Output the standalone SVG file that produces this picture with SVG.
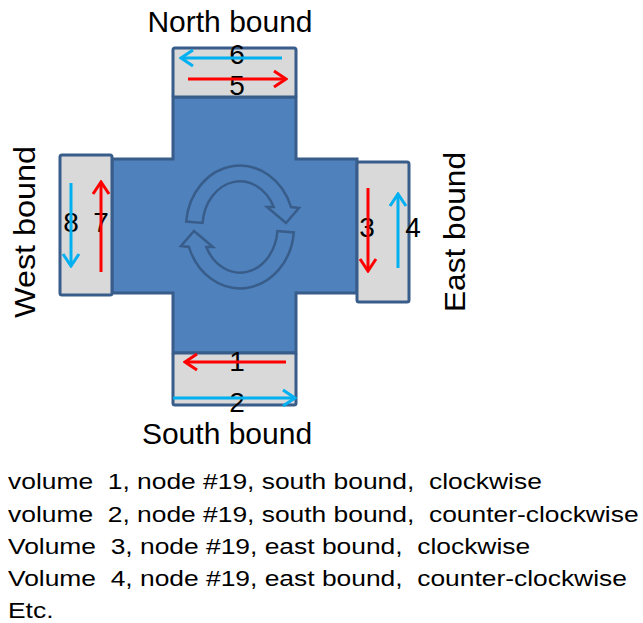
<svg xmlns="http://www.w3.org/2000/svg" width="643" height="623" viewBox="0 0 643 623">
<style>
  text { font-family: "Liberation Sans", Arial, sans-serif; fill: #000; }
  .lbl { font-size: 30px; }
  .num { font-size: 28px; text-anchor: middle; }
  .body { font-size: 22px; }
  .cross { fill: #4F81BD; stroke: #385D8A; stroke-width: 3; stroke-linejoin: miter; }
  .box { fill: #D9D9D9; stroke: #385D8A; stroke-width: 3; }
  .ring { fill: #4F81BD; stroke: #385D8A; stroke-width: 2.5; stroke-linejoin: miter; }
  .red { stroke: #FF0000; stroke-width: 3; fill: none; marker-end: url(#hr); }
  .blue { stroke: #00B0F0; stroke-width: 3; fill: none; marker-end: url(#hb); }
</style>
<defs>
  <marker id="hr" markerUnits="userSpaceOnUse" viewBox="0 0 16 20" refX="14" refY="10" markerWidth="16" markerHeight="20" orient="auto">
    <path d="M2,2 L14,10 L2,18" fill="none" stroke="#FF0000" stroke-width="3"/>
  </marker>
  <marker id="hb" markerUnits="userSpaceOnUse" viewBox="0 0 16 20" refX="14" refY="10" markerWidth="16" markerHeight="20" orient="auto">
    <path d="M2,2 L14,10 L2,18" fill="none" stroke="#00B0F0" stroke-width="3"/>
  </marker>
</defs>

<g id="intersection">
  <path class="cross" d="M173,97 H296 V159 H357 V293 H296 V353 H173 V293 H112 V159 H173 Z"/>
  <g id="rotation">
    <path class="ring" d="M186.2,221.6 A54,61.5 0 0 1 291,207 L299,208 L286,223 L267,207 L273.7,207 A37.5,45.5 0 0 0 202.6,223 Z"/>
    <path class="ring" transform="rotate(180 240 227)" d="M186.2,221.6 A54,61.5 0 0 1 291,207 L299,208 L286,223 L267,207 L273.7,207 A37.5,45.5 0 0 0 202.6,223 Z"/>
  </g>
</g>

<g id="north">
  <rect class="box" x="173" y="48" width="123" height="49" rx="2"/>
  <text class="num" x="237" y="64">6</text>
  <text class="num" x="237" y="95">5</text>
  <text class="lbl" x="230" y="32" text-anchor="middle">North bound</text>
</g>
<g id="south">
  <rect class="box" x="173" y="353" width="123" height="52" rx="2"/>
  <text class="num" x="237" y="371">1</text>
  <text class="num" x="237" y="412">2</text>
  <text class="lbl" x="227" y="444" text-anchor="middle">South bound</text>
</g>
<g id="west">
  <rect class="box" x="60" y="155" width="52" height="140" rx="2"/>
  <text class="num" x="71" y="232">8</text>
  <text class="num" x="101" y="232">7</text>
  <text class="lbl" transform="translate(35 232) rotate(-90)" text-anchor="middle" textLength="172" lengthAdjust="spacingAndGlyphs">West bound</text>
</g>
<g id="east">
  <rect class="box" x="357" y="162" width="52" height="140" rx="2"/>
  <text class="num" x="367" y="237">3</text>
  <text class="num" x="413" y="237">4</text>
  <text class="lbl" transform="translate(465 232) rotate(-90)" text-anchor="middle" textLength="160" lengthAdjust="spacingAndGlyphs">East bound</text>
</g>

<g id="connectors">
  <line class="blue" x1="282" y1="58" x2="181" y2="58"/>
  <line class="red" x1="188" y1="79" x2="286" y2="79"/>
  <line class="blue" x1="71" y1="183" x2="71" y2="266"/>
  <line class="red" x1="101" y1="272" x2="101" y2="182"/>
  <line class="red" x1="368" y1="188" x2="368" y2="271"/>
  <line class="blue" x1="398" y1="268" x2="398" y2="194"/>
  <line class="red" x1="286" y1="362" x2="185" y2="362"/>
  <line class="blue" x1="173" y1="398" x2="295" y2="398"/>
</g>

<g id="legend" class="body" transform="scale(1.2 1)">
  <text x="6.7" y="489" xml:space="preserve">volume  1, node #19, south bound,  clockwise</text>
  <text x="6.7" y="521.5" xml:space="preserve">volume  2, node #19, south bound,  counter-clockwise</text>
  <text x="6.7" y="554" xml:space="preserve">Volume  3, node #19, east bound,  clockwise</text>
  <text x="6.7" y="586.5" xml:space="preserve">Volume  4, node #19, east bound,  counter-clockwise</text>
  <text x="6.7" y="618">Etc.</text>
</g>
</svg>
